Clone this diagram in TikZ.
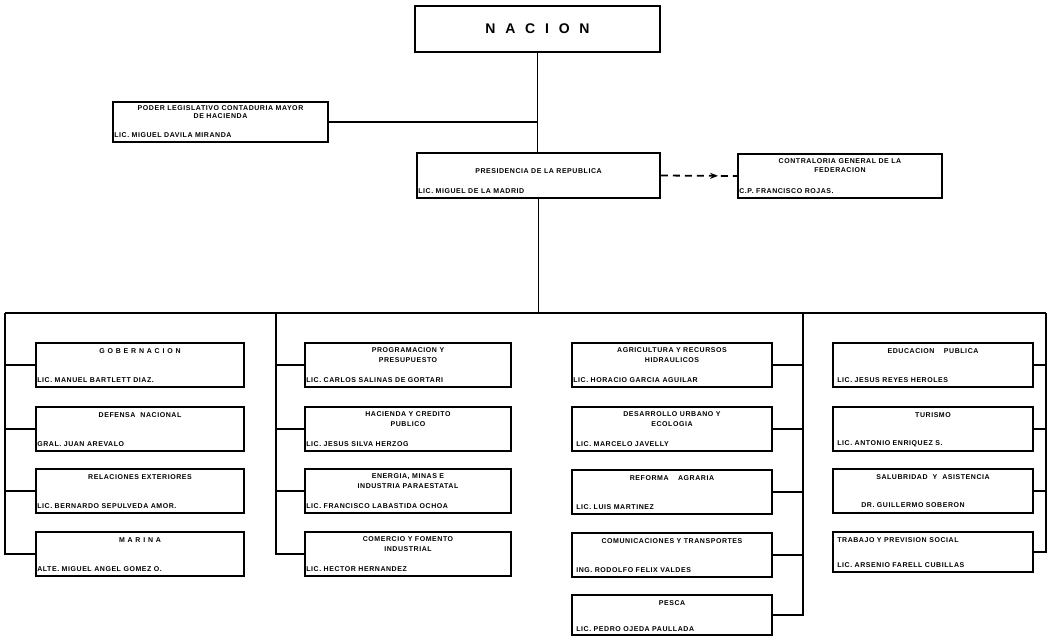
\documentclass[tikz,border=0pt]{standalone}
\usepackage{fontspec}
\newfontfamily\orgfont[LetterSpace=8]{Liberation Sans}
\usetikzlibrary{positioning,arrows.meta,decorations.markings}
\tikzset{%
  puesto/.style  = {shape=rectangle, draw, line width=1.8pt, inner sep=0pt,%
                    minimum height=44pt},%
  col/.style     = {puesto, minimum width=#1},%
  cargo/.style   = {font=\orgfont\bfseries\fontsize{7}{10.5}\selectfont,%
                    align=center, inner sep=1pt},%
  titular/.style = {font=\orgfont\bfseries\fontsize{7}{8}\selectfont,%
                    inner sep=1pt},%
  enlace/.style  = {line width=1.8pt}%
}
\newcommand{\ancho}{\addfontfeature{LetterSpace=40}}
\begin{document}
\begin{tikzpicture}[x=1pt,y=-1pt]
	\useasboundingbox (0,0) rectangle (1055,640);
	% cabeza
	\node [puesto, minimum width=245pt, minimum height=46pt] (nac) at (537.5,29) {};
	\node [font=\orgfont\bfseries\fontsize{14}{14}\selectfont\addfontfeature{LetterSpace=70}] (nac-t) at (nac.center) {NACION};
	\node [puesto, minimum width=215pt, minimum height=40pt] (leg) at (220.5,122) {};
	\node [cargo, below=3pt of leg.north, font=\orgfont\bfseries\fontsize{7}{8.5}\selectfont] (leg-t) {PODER LEGISLATIVO CONTADURIA MAYOR\\DE HACIENDA};
	\node [titular, above right=4pt and 1pt of leg.south west] (leg-n) {LIC. MIGUEL DAVILA MIRANDA};
	\node [puesto, minimum width=243pt, minimum height=45pt] (pres) at (538.5,175.5) {};
	\node [cargo, below=15pt of pres.north] (pres-t) {PRESIDENCIA DE LA REPUBLICA};
	\node [titular, above right=4pt and 1pt of pres.south west] (pres-n) {LIC. MIGUEL DE LA MADRID};
	\node [puesto, minimum width=204pt] (con) at (840,176) {};
	\node [cargo, below=4pt of con.north, font=\orgfont\bfseries\fontsize{7}{9}\selectfont] (con-t) {CONTRALORIA GENERAL DE LA\\FEDERACION};
	\node [titular, above right=4pt and 1pt of con.south west] (con-n) {C.P. FRANCISCO ROJAS.};
	% columna 1
	\node [col=208pt] (gob) at (140,365) {};
	\node [cargo, below=5pt of gob.north] (gob-t) {\ancho GOBERNACION};
	\node [titular, above right=4pt and 1pt of gob.south west] (gob-n) {LIC. MANUEL BARTLETT DIAZ.};
	\node [col=208pt] (def) at (140,429) {};
	\node [cargo, below=5pt of def.north] (def-t) {DEFENSA \ NACIONAL};
	\node [titular, above right=4pt and 1pt of def.south west] (def-n) {GRAL. JUAN AREVALO};
	\node [col=208pt] (rel) at (140,491) {};
	\node [cargo, below=5pt of rel.north] (rel-t) {RELACIONES EXTERIORES};
	\node [titular, above right=4pt and 1pt of rel.south west] (rel-n) {LIC. BERNARDO SEPULVEDA AMOR.};
	\node [col=208pt] (mar) at (140,554) {};
	\node [cargo, below=5pt of mar.north] (mar-t) {\ancho MARINA};
	\node [titular, above right=4pt and 1pt of mar.south west] (mar-n) {ALTE. MIGUEL ANGEL GOMEZ O.};
	% columna 2
	\node [col=206pt] (prog) at (408,365) {};
	\node [cargo, below=4pt of prog.north] (prog-t) {PROGRAMACION Y\\PRESUPUESTO};
	\node [titular, above right=4pt and 1pt of prog.south west] (prog-n) {LIC. CARLOS SALINAS DE GORTARI};
	\node [col=206pt] (hac) at (408,429) {};
	\node [cargo, below=4pt of hac.north] (hac-t) {HACIENDA Y CREDITO\\PUBLICO};
	\node [titular, above right=4pt and 1pt of hac.south west] (hac-n) {LIC. JESUS SILVA HERZOG};
	\node [col=206pt] (ene) at (408,491) {};
	\node [cargo, below=4pt of ene.north] (ene-t) {ENERGIA, MINAS E\\INDUSTRIA PARAESTATAL};
	\node [titular, above right=4pt and 1pt of ene.south west] (ene-n) {LIC. FRANCISCO LABASTIDA OCHOA};
	\node [col=206pt] (com) at (408,554) {};
	\node [cargo, below=4pt of com.north] (com-t) {COMERCIO Y FOMENTO\\INDUSTRIAL};
	\node [titular, above right=4pt and 1pt of com.south west] (com-n) {LIC. HECTOR HERNANDEZ};
	% columna 3
	\node [col=200pt] (agr) at (672,365) {};
	\node [cargo, below=4pt of agr.north] (agr-t) {AGRICULTURA Y RECURSOS\\HIDRAULICOS};
	\node [titular, above right=4pt and 1pt of agr.south west] (agr-n) {LIC. HORACIO GARCIA AGUILAR};
	\node [col=200pt] (des) at (672,429) {};
	\node [cargo, below=4pt of des.north] (des-t) {DESARROLLO URBANO Y\\ECOLOGIA};
	\node [titular, above right=4pt and 4pt of des.south west] (des-n) {LIC. MARCELO JAVELLY};
	\node [col=200pt] (ref) at (672,492) {};
	\node [cargo, below=5pt of ref.north] (ref-t) {REFORMA \quad AGRARIA};
	\node [titular, above right=4pt and 4pt of ref.south west] (ref-n) {LIC. LUIS MARTINEZ};
	\node [col=200pt] (cyt) at (672,555) {};
	\node [cargo, below=5pt of cyt.north] (cyt-t) {COMUNICACIONES Y TRANSPORTES};
	\node [titular, above right=4pt and 4pt of cyt.south west] (cyt-n) {ING. RODOLFO FELIX VALDES};
	\node [col=200pt, minimum height=40pt] (pes) at (672,615) {};
	\node [cargo, below=5pt of pes.north] (pes-t) {PESCA};
	\node [titular, above right=3pt and 4pt of pes.south west] (pes-n) {LIC. PEDRO OJEDA PAULLADA};
	% columna 4
	\node [col=200pt] (edu) at (933,365) {};
	\node [cargo, below=5pt of edu.north] (edu-t) {EDUCACION \quad PUBLICA};
	\node [titular, above right=4pt and 4pt of edu.south west] (edu-n) {LIC. JESUS REYES HEROLES};
	\node [col=200pt] (tur) at (933,429) {};
	\node [cargo, below=5pt of tur.north] (tur-t) {TURISMO};
	\node [titular, above right=4pt and 4pt of tur.south west] (tur-n) {LIC. ANTONIO ENRIQUEZ S.};
	\node [col=200pt] (sal) at (933,491) {};
	\node [cargo, below=5pt of sal.north] (sal-t) {SALUBRIDAD \ Y \ ASISTENCIA};
	\node [titular, above right=5pt and 28pt of sal.south west] (sal-n) {DR. GUILLERMO SOBERON};
	\node [col=200pt, minimum height=40pt] (tra) at (933,552) {};
	\node [cargo, below right=5pt and 4pt of tra.north west] (tra-t) {TRABAJO Y PREVISION SOCIAL};
	\node [titular, above right=4pt and 4pt of tra.south west] (tra-n) {LIC. ARSENIO FARELL CUBILLAS};
	% lineas
	\coordinate (b1) at (5,313);
	\coordinate (b2) at (276,313);
	\coordinate (b3) at (803,313);
	\coordinate (b4) at (1046,313);
	\draw [enlace] (nac.south) -- (nac.south |- pres.north);
	\draw [enlace] (leg.east) -- (leg.east -| nac.south);
	\draw [enlace] (pres.south) -- (pres.south |- b1);
	\draw [enlace] (b1) -- (b4);
	\draw [enlace, dash pattern=on 7pt off 5pt, postaction={decorate},
		decoration={markings, mark=at position 0.75 with {\arrow{Stealth[length=8pt,width=6pt]}}}]
		(pres.east) -- (con.west);
	\draw [enlace] (gob.west) -- (gob.west -| b1);
	\draw [enlace] (def.west) -- (def.west -| b1);
	\draw [enlace] (rel.west) -- (rel.west -| b1);
	\draw [enlace] (b1) |- (mar.west);
	\draw [enlace] (prog.west) -- (prog.west -| b2);
	\draw [enlace] (hac.west) -- (hac.west -| b2);
	\draw [enlace] (ene.west) -- (ene.west -| b2);
	\draw [enlace] (b2) |- (com.west);
	\draw [enlace] (agr.east) -- (agr.east -| b3);
	\draw [enlace] (des.east) -- (des.east -| b3);
	\draw [enlace] (ref.east) -- (ref.east -| b3);
	\draw [enlace] (cyt.east) -- (cyt.east -| b3);
	\draw [enlace] (b3) |- (pes.east);
	\draw [enlace] (edu.east) -- (edu.east -| b4);
	\draw [enlace] (tur.east) -- (tur.east -| b4);
	\draw [enlace] (sal.east) -- (sal.east -| b4);
	\draw [enlace] (b4) |- (tra.east);
\end{tikzpicture}
\end{document}
